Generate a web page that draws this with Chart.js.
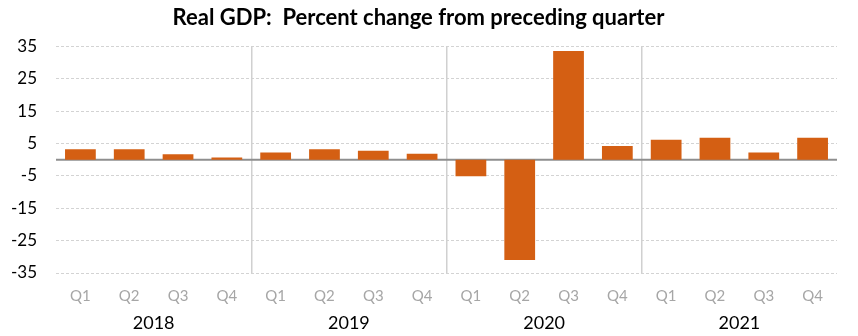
<!DOCTYPE html>
<html>
<head>
<meta charset="utf-8">
<title>Real GDP</title>
<script src="https://cdn.jsdelivr.net/npm/chart.js@4"></script>
<style>
  html, body { margin: 0; padding: 0; background: #fff; }
  #gdp { display: block; }
</style>
</head>
<body>
<canvas id="gdp" width="858" height="336"></canvas>
<script>
/**
 * Chart Data.
 */
const years = ['2018', '2019', '2020', '2021'];
const quarters = ['Q1', 'Q2', 'Q3', 'Q4'];
const gdpChange = [
  3.2, 3.2, 1.7, 0.7,
  2.2, 3.2, 2.8, 1.8,
  -5.1, -31.0, 33.6, 4.2,
  6.2, 6.8, 2.2, 6.8,
];
const yTicks = [-35, -25, -15, -5, 5, 15, 25, 35];

const FONT = 'Lato, "Open Sans", sans-serif';

// one label per quarter, e.g. "2020 Q2"
const labels = [];
years.forEach((year) => {
  quarters.forEach((q) => labels.push(`${year} ${q}`));
});

/**
 * Solid line along zero, drawn over the dashed grid.
 */
const zeroLine = {
  id: 'zeroLine',
  beforeDatasetsDraw(chart) {
    const { ctx, chartArea, scales } = chart;
    const y = scales.y.getPixelForValue(0);
    ctx.save();
    ctx.strokeStyle = '#8e8e8e';
    ctx.lineWidth = 2;
    ctx.beginPath();
    ctx.moveTo(chartArea.left, y);
    ctx.lineTo(chartArea.right, y);
    ctx.stroke();
    ctx.restore();
  },
};

new Chart(document.getElementById('gdp'), {
  type: 'bar',
  data: {
    labels,
    datasets: [{
      data: gdpChange,
      backgroundColor: '#d45f13',
      categoryPercentage: 1,
      barPercentage: 0.63,
      xAxisID: 'x',
    }],
  },
  plugins: [zeroLine],
  options: {
    responsive: false,
    animation: false,
    devicePixelRatio: 1,
    layout: { padding: { left: 0, right: 21, top: 0, bottom: 2 } },
    plugins: {
      legend: { display: false },
      tooltip: { enabled: false },
      title: {
        display: true,
        text: 'Real GDP:  Percent change from preceding quarter',
        color: '#000',
        font: { family: FONT, size: 22, weight: 'bold' },
        padding: { top: 5, bottom: 15 },
      },
    },
    scales: {
      y: {
        min: -35,
        max: 35,
        afterBuildTicks: (scale) => {
          scale.ticks = yTicks.map((value) => ({ value }));
        },
        afterFit: (scale) => { scale.width = 56; },
        grid: { color: '#d3d3d3', lineWidth: 1, drawTicks: false },
        border: { display: false, dash: [3, 2] },
        ticks: {
          color: '#000',
          padding: 19,
          font: { family: FONT, size: 17 },
        },
      },
      x: {
        position: 'bottom',
        offset: true,
        afterFit: (scale) => { scale.height = 33; },
        grid: { display: false, drawTicks: false },
        border: { display: false },
        ticks: {
          color: '#a6a6a6',
          padding: 14,
          font: { family: FONT, size: 15 },
          autoSkip: false,
          maxRotation: 0,
          callback: (value, index) => quarters[index % quarters.length],
        },
      },
      years: {
        type: 'category',
        position: 'bottom',
        labels: years,
        offset: true,
        afterFit: (scale) => { scale.height = 28; },
        grid: {
          offset: true,
          drawTicks: false,
          // only the boundaries between years, not the outer edges
          color: (ctx) => (ctx.index > 0 && ctx.index < years.length ? '#d0d0d0' : 'rgba(0,0,0,0)'),
          lineWidth: 1.5,
        },
        border: { display: false },
        ticks: {
          color: '#000',
          padding: 6,
          font: { family: FONT, size: 18 },
          maxRotation: 0,
        },
      },
    },
  },
});
</script>
</body>
</html>
